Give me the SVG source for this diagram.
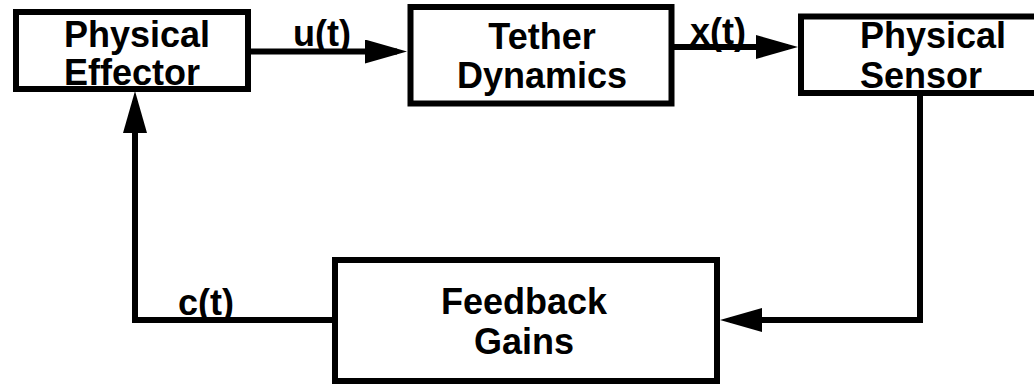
<svg xmlns="http://www.w3.org/2000/svg" width="1034" height="384" viewBox="0 0 1034 384">
  <style>
    .box { fill: #ffffff; stroke: #000000; stroke-width: 6; }
    .conn { fill: none; stroke: #000000; stroke-width: 6; stroke-linejoin: miter; }
    text { font-family: "Liberation Sans", Arial, Helvetica, sans-serif; font-weight: bold; font-size: 36px; fill: #000000; }
    .mid { text-anchor: middle; }
  </style>
  <defs>
    <marker id="arrow" markerUnits="userSpaceOnUse" viewBox="0 0 42 24" markerWidth="42" markerHeight="24" refX="32" refY="12" orient="auto">
      <path d="M0,0 L42,12 L0,24 Z" fill="#000000"/>
    </marker>
  </defs>
  <rect width="1034" height="384" fill="#ffffff"/>

  <g id="connectors">
    <path class="conn" d="M251,51.5 H397" marker-end="url(#arrow)"/>
    <path class="conn" d="M674,47 H788" marker-end="url(#arrow)"/>
    <path class="conn" d="M920,95 V320 H730" marker-end="url(#arrow)"/>
    <path class="conn" d="M332,320 H135 V101" marker-end="url(#arrow)"/>
  </g>

  <g id="effector">
    <rect class="box" x="16" y="12" width="232" height="77"/>
    <text x="64" y="47">Physical</text>
    <text x="64" y="85">Effector</text>
  </g>

  <g id="tether">
    <rect class="box" x="410.5" y="7" width="261" height="96.5"/>
    <text class="mid" x="542" y="49">Tether</text>
    <text class="mid" x="542" y="88">Dynamics</text>
  </g>

  <g id="sensor">
    <rect class="box" x="801" y="16.5" width="260" height="76.5"/>
    <text x="860" y="48">Physical</text>
    <text x="860" y="88">Sensor</text>
  </g>

  <g id="feedback">
    <rect class="box" x="335" y="260" width="382" height="121"/>
    <text class="mid" x="524" y="314">Feedback</text>
    <text class="mid" x="524" y="354">Gains</text>
  </g>

  <g id="labels">
    <text x="293" y="46">u(t)</text>
    <text x="690" y="44">x(t)</text>
    <text x="178" y="315">c(t)</text>
  </g>
</svg>
